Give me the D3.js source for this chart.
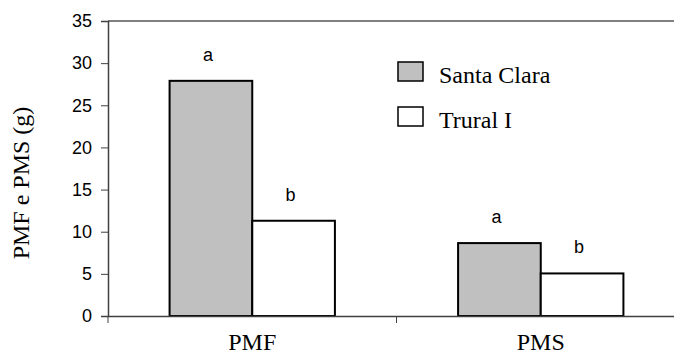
<!DOCTYPE html>
<html>
<head>
<meta charset="utf-8" />
<title>PMF e PMS</title>
<style>
* { padding: 0; margin: 0; }
body { background: #fff; }
#chart { width: 674px; height: 354px; overflow: hidden; }
</style>
</head>
<body>
<div id="chart"></div>
<script src="https://cdn.jsdelivr.net/npm/d3@7"></script>
<script>
var categories = ["PMF", "PMS"]
var cultivars = ["Santa Clara", "Trural I"]
var santaClara = [27.9, 8.65]
var truralI = [11.3, 5.05]
var letters = [["a", "b"], ["a", "b"]]
var yTicks = [0, 5, 10, 15, 20, 25, 30, 35]
var fills = ["#c0c0c0", "#ffffff"]

var width = 674, height = 354
var margin = {top: 21, left: 108, bottom: 38, right: -11}
var svg = d3.select("#chart").append("svg")
    .attr("width", width).attr("height", height)

var x = d3.scaleBand().domain(categories)
    .range([margin.left, width - margin.right])
var xIn = d3.scaleBand().domain(cultivars)
    .range([0, x.bandwidth()]).paddingOuter(0.745).paddingInner(0)
var y = d3.scaleLinear().domain([0, 35])
    .range([height - margin.bottom, margin.top])

var serif = "Liberation Serif, Times New Roman, serif"
var sans = "Liberation Sans, Arial, sans-serif"

// top frame line
svg.append("line")
    .attr("x1", margin.left).attr("x2", width)
    .attr("y1", y(35)).attr("y2", y(35))
    .attr("stroke", "#808080").attr("stroke-width", 2)

var flat = []
categories.forEach(function(c, i) {
    flat.push({cat: c, cult: cultivars[0], v: santaClara[i], l: letters[i][0], f: fills[0]})
    flat.push({cat: c, cult: cultivars[1], v: truralI[i], l: letters[i][1], f: fills[1]})
})

svg.append("g").selectAll("rect")
    .data(flat).enter().append("rect")
    .attr("x", function(d) { return x(d.cat) + xIn(d.cult) })
    .attr("y", function(d) { return y(d.v) })
    .attr("width", xIn.bandwidth())
    .attr("height", function(d) { return y(0) - y(d.v) })
    .attr("fill", function(d) { return d.f })
    .attr("stroke", "#000").attr("stroke-width", 2)

svg.append("g").selectAll("text")
    .data(flat).enter().append("text")
    .attr("x", function(d) { return x(d.cat) + xIn(d.cult) + xIn.bandwidth() / 2 - 3 })
    .attr("y", function(d) { return y(d.v) - 20 })
    .attr("text-anchor", "middle")
    .style("font-family", sans)
    .style("font-size", "18px")
    .text(function(d) { return d.l })

// y axis
var yAxis = svg.append("g")
    .attr("transform", "translate(" + margin.left + ",0)")
    .call(d3.axisLeft(y).tickValues(yTicks).tickSize(7).tickPadding(9))
yAxis.select(".domain").attr("stroke", "#404040").attr("stroke-width", 1.5)
yAxis.selectAll(".tick line").attr("stroke", "#404040")
yAxis.selectAll("text")
    .style("font-family", sans)
    .style("font-size", "18px").attr("fill", "#000")

// x axis
var xAxis = svg.append("g")
    .attr("transform", "translate(0," + y(0) + ")")
    .call(d3.axisBottom(x).tickSize(0).tickPadding(34))
xAxis.select(".domain").attr("stroke", "#404040").attr("stroke-width", 1.5)
xAxis.selectAll("text")
    .style("font-family", serif)
    .style("font-size", "24px").attr("fill", "#000")
    .attr("dy", "0")
// boundary ticks between categories
xAxis.selectAll(".bound")
    .data(categories.slice(0, -1)).enter().append("line")
    .attr("class", "bound")
    .attr("x1", function(d) { return x(d) + x.bandwidth() })
    .attr("x2", function(d) { return x(d) + x.bandwidth() })
    .attr("y1", 0).attr("y2", 7)
    .attr("stroke", "#404040")
svg.append("line")
    .attr("x1", margin.left).attr("x2", margin.left)
    .attr("y1", y(0)).attr("y2", y(0) + 7)
    .attr("stroke", "#404040")

// y title
svg.append("text")
    .attr("transform", "translate(29,183) rotate(-90)")
    .attr("text-anchor", "middle")
    .style("font-family", serif)
    .style("font-size", "24px")
    .text("PMF e PMS (g)")

// legend
var legend = svg.append("g").attr("transform", "translate(398,62)")
var li = legend.selectAll("g").data(cultivars).enter().append("g")
    .attr("transform", function(d, i) { return "translate(0," + i * 45 + ")" })
li.append("rect")
    .attr("width", 25).attr("height", 19)
    .attr("fill", function(d, i) { return fills[i] })
    .attr("stroke", "#000").attr("stroke-width", 1.5)
li.append("text")
    .attr("x", 41).attr("y", 21)
    .style("font-family", serif)
    .style("font-size", "24px")
    .text(function(d) { return d })
</script>
</body>
</html>
